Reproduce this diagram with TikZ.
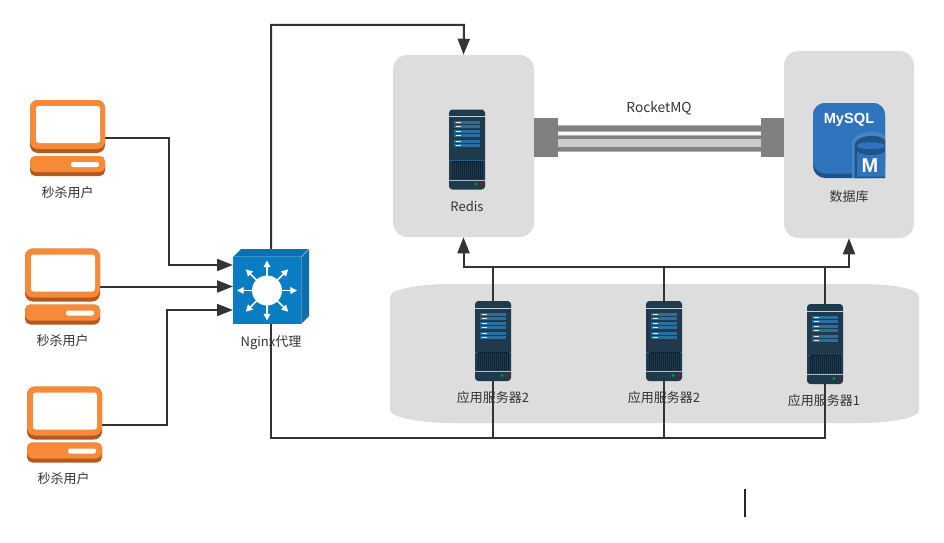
\documentclass[tikz,border=0pt]{standalone}
\usepackage{fontspec}
\setmainfont{Noto Sans CJK SC}
\newfontfamily\logofont{Liberation Sans}
\usetikzlibrary{arrows.meta}
\definecolor{boxgray}{HTML}{DDDDDD}
\definecolor{ink}{HTML}{333333}
\definecolor{orangeA}{HTML}{F68A38}
\definecolor{orangeB}{HTML}{B4581F}
\definecolor{srvA}{HTML}{1F3A4D}
\definecolor{srvB}{HTML}{2A6F9E}
\definecolor{srvC}{HTML}{0F2233}
\definecolor{swA}{HTML}{0A7CC1}
\definecolor{swB}{HTML}{0E6FAE}
\definecolor{dbA}{HTML}{2F74BD}
\definecolor{dbB}{HTML}{1F5488}
\definecolor{pipeA}{HTML}{808080}
\tikzset{
  x=0.75pt,y=-0.75pt,
  panel/.style={fill=boxgray,draw=none},
  conn/.style={draw=ink,line width=1.5pt},
  tipconn/.style={-{Triangle[length=12pt,width=9pt]}},
  label/.style={text=ink,font=\fontsize{9.75}{12}\selectfont,inner sep=0pt},
  holder/.style={inner sep=0pt,outer sep=0pt,draw=none},
  pcbox/.style={holder,minimum width=56.25pt,minimum height=57pt},
  srvbox/.style={holder,minimum width=27pt,minimum height=60pt},
  computer/.pic={
    \fill[orangeB,rounded corners=6pt] (-37.5,-38) rectangle (37.5,15);
    \fill[orangeA,rounded corners=6pt] (-37.5,-38) rectangle (37.5,11);
    \fill[white,rounded corners=2pt] (-31.5,-32) rectangle (32.5,5);
    \fill[orangeB,rounded corners=4pt] (-37.5,18) rectangle (37.5,38);
    \fill[orangeA,rounded corners=4pt] (-37.5,18) rectangle (37.5,34);
    \fill[white,rounded corners=1.5pt] (3.5,24) rectangle (31.5,29);
  },
  serverpic/.pic={
    \fill[srvA,rounded corners=2.5pt] (-18,-40) rectangle (18,40);
    \fill[white!75!srvA] (-18,-33.5) rectangle (18,-32.3);
    \foreach \yy in {-28.5,-19.5,-9.5}{
      \fill[srvB] (-13,\yy) rectangle (13,{\yy+3.4});
      \fill[srvB] (-13,{\yy+4}) rectangle (13,{\yy+7.4});
      \fill[white!85!srvB] (-11,{\yy+1}) rectangle (-6,{\yy+2.4});
      \fill[white!85!srvB] (-11,{\yy+5}) rectangle (-6,{\yy+6.4});
    }
    \fill[srvB!70!srvA] (-18,10.5) rectangle (18,11.3);
    \fill[srvC] (-15.5,11.3) rectangle (15.5,29);
    \foreach \xx in {-14,-12,...,14}{
      \fill[srvA] (\xx,12) rectangle ({\xx+0.6},29);
    }
    \fill[white!65!srvA] (-18,30) rectangle (18,31.2);
    \fill[green!65!black] (9,34.5) circle (1.2pt);
    \fill[red!75!black] (14.5,34.5) circle (1.2pt);
  },
  switchpic/.pic={
    \fill[swB] (-38,-29.5) -- (-30,-37.5) -- (38,-37.5) -- (30,-29.5) -- cycle;
    \fill[swB] (30,-29.5) -- (38,-37.5) -- (38,29.5) -- (30,37.5) -- cycle;
    \draw[white!60!swA,line width=0.5pt] (30,-29.5) -- (38,-37.5) (-38,-29.5) -- (30,-29.5) -- (30,37.5);
    \fill[swA] (-38,-29.5) rectangle (30,37.5);
    \foreach \aa in {0,45,...,315}{
      \draw[white,line width=1.1pt,-{Triangle[length=5pt,width=5pt]}]
        ([shift={(\aa:14)}]-4,4) -- ([shift={(\aa:30)}]-4,4);
    }
    \fill[white] (-4,4) circle (11.25pt);
  },
  mysqlpic/.pic={
    \fill[dbB,rounded corners=9pt] (-36,-37.5) rectangle (36,37.5);
    \fill[dbA,rounded corners=9pt] (-36,-37.5) rectangle (36,33);
    \fill[dbA!88!white] (3,37.5) -- (3,3) .. controls (3,-11) and (36,-11) .. (36,-3) -- (36,37.5) -- cycle;
    \fill[dbB] (5.5,37.5) -- (5.5,5) .. controls (5.5,-7) and (36,-7) .. (36,1) -- (36,37.5) -- cycle;
    \fill[dbA] (8,36) -- (8,11) .. controls (14,16) and (30,16) .. (36,11) -- (36,36) -- cycle;
    \fill[dbA] (8,5.5) .. controls (8,0.5) and (36,0.5) .. (36,5.5) .. controls (36,9.5) and (8,9.5) .. (8,5.5) -- cycle;
    \node[text=white,inner sep=0pt,font=\logofont\fontsize{11}{13}\bfseries\selectfont] at (0,-20.5) {MySQL};
    \node[text=white,inner sep=0pt,font=\logofont\fontsize{15}{16}\bfseries\selectfont] at (21,25.5) {M};
  }
}
\begin{document}
\begin{tikzpicture}
\useasboundingbox (0,0) rectangle (944,542);
\fill[white] (0,0) rectangle (944,542);
% containers
\node[panel,rounded corners=11pt,minimum width=105.75pt,minimum height=136.5pt,inner sep=0pt] (redis) at (463.5,146) {};
\node[panel,rounded corners=11pt,minimum width=97.5pt,minimum height=140.25pt,inner sep=0pt] (db) at (849,144.5) {};
\fill[boxgray] (390,297) .. controls (390,288) and (425,284) .. (450,284) -- (860,284) .. controls (890,284) and (919,288) .. (919,297) -- (919,410) .. controls (919,418) and (890,423) .. (860,423) -- (450,423) .. controls (425,423) and (390,418) .. (390,410) -- cycle;
% holders
\node[pcbox] (u1) at (67.5,138) {};
\node[pcbox] (u2) at (62.5,286.5) {};
\node[pcbox] (u3) at (64.5,424.5) {};
\node[holder,minimum width=57pt,minimum height=56.25pt] (nginx) at (271,286.5) {};
\node[srvbox] (r1) at (467,149.5) {};
\node[srvbox] (s1) at (493,341) {};
\node[srvbox] (s2) at (664,341) {};
\node[srvbox] (s3) at (825,344) {};
\node[holder,minimum width=54pt,minimum height=56.25pt] (mysql) at (849,140.5) {};
\coordinate (bus) at (664,267);
\coordinate (low) at (664,438);
\coordinate (in1) at (233,265);
\coordinate (in2) at (233,286.5);
\coordinate (in3) at (233,310);
\coordinate (cur1) at (744.5,489);
\coordinate (cur2) at (744.5,517);
% connectors
\draw[conn,tipconn] (u1.east) -| (169,265) -- (in1);
\draw[conn,tipconn] (u2.east) -- (in2);
\draw[conn,tipconn] (u3.east) -| (167,310) -- (in3);
\draw[conn,tipconn] (nginx.north) |- (464,25) -- (redis.north);
\draw[conn] (nginx.south) |- (s3.south |- low) -- (s3.south);
\draw[conn] (s1.south) -- (s1.south |- low);
\draw[conn] (s2.south) -- (s2.south |- low);
\draw[conn] (s1.north) -- (s1.north |- bus);
\draw[conn] (s2.north) -- (s2.north |- bus);
\draw[conn] (s3.north) -- (s3.north |- bus);
\draw[conn,{Triangle[length=12pt,width=9pt]}-{Triangle[length=12pt,width=9pt]}] (redis.south) -- (redis.south |- bus) -- (db.south |- bus) -- (db.south);
\draw[black!85,line width=1.5pt] (cur1) -- (cur2);
% pipe
\fill[black!30] (546,125) rectangle (772,152);
\fill[white] (546,132) rectangle (772,135);
\fill[pipeA] (546,126) rectangle (772,131);
\fill[pipeA] (546,136) rectangle (772,151);
\fill[black!20] (546,138.5) rectangle (772,147);
\fill[pipeA] (534,118) rectangle (558,157);
\fill[pipeA] (761,118) rectangle (784,157);
% icons
\pic at (u1) {computer};
\pic at (u2) {computer};
\pic at (u3) {computer};
\pic at (nginx) {switchpic};
\pic at (r1) {serverpic};
\pic at (s1) {serverpic};
\pic at (s2) {serverpic};
\pic at (s3) {serverpic};
\pic at (mysql) {mysqlpic};
% labels
\node[label] (l1) at (67.5,193) {秒杀用户};
\node[label] (l2) at (62.5,341) {秒杀用户};
\node[label] (l3) at (63.5,479) {秒杀用户};
\node[label] (l4) at (271,343) {Nginx代理};
\node[label] (l5) at (467,206.5) {Redis};
\node[label] (l6) at (849,197) {数据库};
\node[label,font=\fontsize{10.3}{12}\selectfont] (l7) at (659,108.5) {RocketMQ};
\node[label] (l8) at (493,398) {应用服务器2};
\node[label] (l9) at (664,398) {应用服务器2};
\node[label] (l10) at (824,401) {应用服务器1};
\end{tikzpicture}
\end{document}
